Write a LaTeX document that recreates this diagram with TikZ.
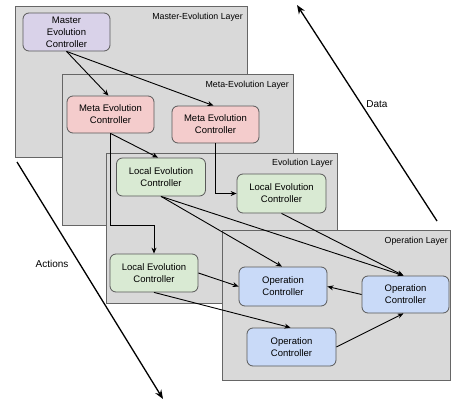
\documentclass[tikz,border=0pt]{standalone}
\usepackage{fontspec}
\setmainfont{Liberation Sans}
\usetikzlibrary{arrows.meta,calc}
\definecolor{layerfill}{HTML}{D9D9D9}
\definecolor{layerline}{HTML}{666666}
\definecolor{nodeline}{HTML}{595959}
\definecolor{masterfill}{HTML}{D9D2E9}
\definecolor{metafill}{HTML}{F4CCCC}
\definecolor{localfill}{HTML}{D9EAD3}
\definecolor{opfill}{HTML}{C9DAF8}
\tikzset{
  layerbox/.style={fill=layerfill,draw=layerline,line width=0.8pt},
  layerlabel/.style={anchor=east,font=\fontsize{8.8}{10}\selectfont,inner sep=0pt},
  ctrl/.style={draw=nodeline,line width=0.8pt,rounded corners=6pt,align=center,
    font=\fontsize{9.5}{12}\selectfont,inner sep=0pt},
  mastbox/.style={ctrl,fill=masterfill,minimum width=87pt,minimum height=38pt},
  metabox/.style={ctrl,fill=metafill,minimum width=87pt,minimum height=37pt},
  localbox/.style={ctrl,fill=localfill,minimum width=89pt,minimum height=38pt},
  opbox/.style={ctrl,fill=opfill,minimum width=88pt,minimum height=38pt},
  conn/.style={-{Stealth[length=6pt,width=5pt]},line width=0.9pt,black},
  bigarrow/.style={-{Stealth[length=9pt,width=7pt]},line width=1.3pt,black},
  sidelabel/.style={font=\fontsize{10}{12}\selectfont,inner sep=0pt}
}
\begin{document}
\begin{tikzpicture}[x=1pt,y=-1pt]
\useasboundingbox (0,0) rectangle (451,402);
% layers
\draw[layerbox] (15,6) rectangle (247,157);
\node[layerlabel] (lblmaster) at (243,17) {Master-Evolution Layer};
\draw[layerbox] (62,74) rectangle (293,225);
\node[layerlabel] (lblmeta) at (289,85) {Meta-Evolution Layer};
\draw[layerbox] (106,153) rectangle (337,303);
\node[layerlabel] (lblevo) at (333,163) {Evolution Layer};
\draw[layerbox] (222,230) rectangle (450.5,380);
\node[layerlabel] (lblop) at (448,241) {Operation Layer};
% controllers
\node[mastbox] (master) at (66.5,32) {Master\\Evolution\\Controller};
\node[metabox] (meta1) at (110.5,114.5) {Meta Evolution\\Controller};
\node[metabox] (meta2) at (215.5,124.5) {Meta Evolution\\Controller};
\node[localbox] (local1) at (161,177) {Local Evolution\\Controller};
\node[localbox,minimum height=39pt] (local2) at (281.5,193.5) {Local Evolution\\Controller};
\node[localbox,minimum width=88pt] (local3) at (154,273) {Local Evolution\\Controller};
\node[opbox,minimum height=39pt] (opA) at (283,286.5) {Operation\\Controller};
\node[opbox,minimum width=87pt,minimum height=37pt] (opB) at (405.5,294.5) {Operation\\Controller};
\node[opbox,minimum width=89pt] (opC) at (291.5,347) {Operation\\Controller};
% connectors
\draw[conn] (master.south) -- ([xshift=-2pt]meta1.north);
\draw[conn] (master.south) -- ([xshift=-2pt]meta2.north);
\draw[conn] (meta1.south) -- ([xshift=-3pt]local1.north);
\coordinate (m1bend) at (110.5,225);
\draw[conn] (meta1.south) -- (m1bend) -| (local3.north);
\draw[conn] (meta2.south) |- (local2.west);
\draw[conn] (local1.south) -- ([xshift=-1pt]opA.north);
\draw[conn] (local1.south) -- ([xshift=-2pt]opB.north);
\draw[conn] (local2.south) -- ([xshift=-2pt]opB.north);
\draw[conn] (local3.east) -- (opA.west);
\draw[conn] (local3.south) -- ([xshift=-1pt]opC.north);
\draw[conn] (opB.west) -- (opA.east);
\draw[conn] (opC.east) -- ([xshift=-2pt]opB.south);
% data / actions
\coordinate (datafrom) at (437,221);
\coordinate (datato) at (297,5);
\draw[bigarrow] (datafrom) -- (datato);
\node[sidelabel] (datalbl) at (377,104) {Data};
\coordinate (actfrom) at (17,162);
\coordinate (actto) at (163,399);
\draw[bigarrow] (actfrom) -- (actto);
\node[sidelabel] (actlbl) at (52,264) {Actions};
\end{tikzpicture}
\end{document}
